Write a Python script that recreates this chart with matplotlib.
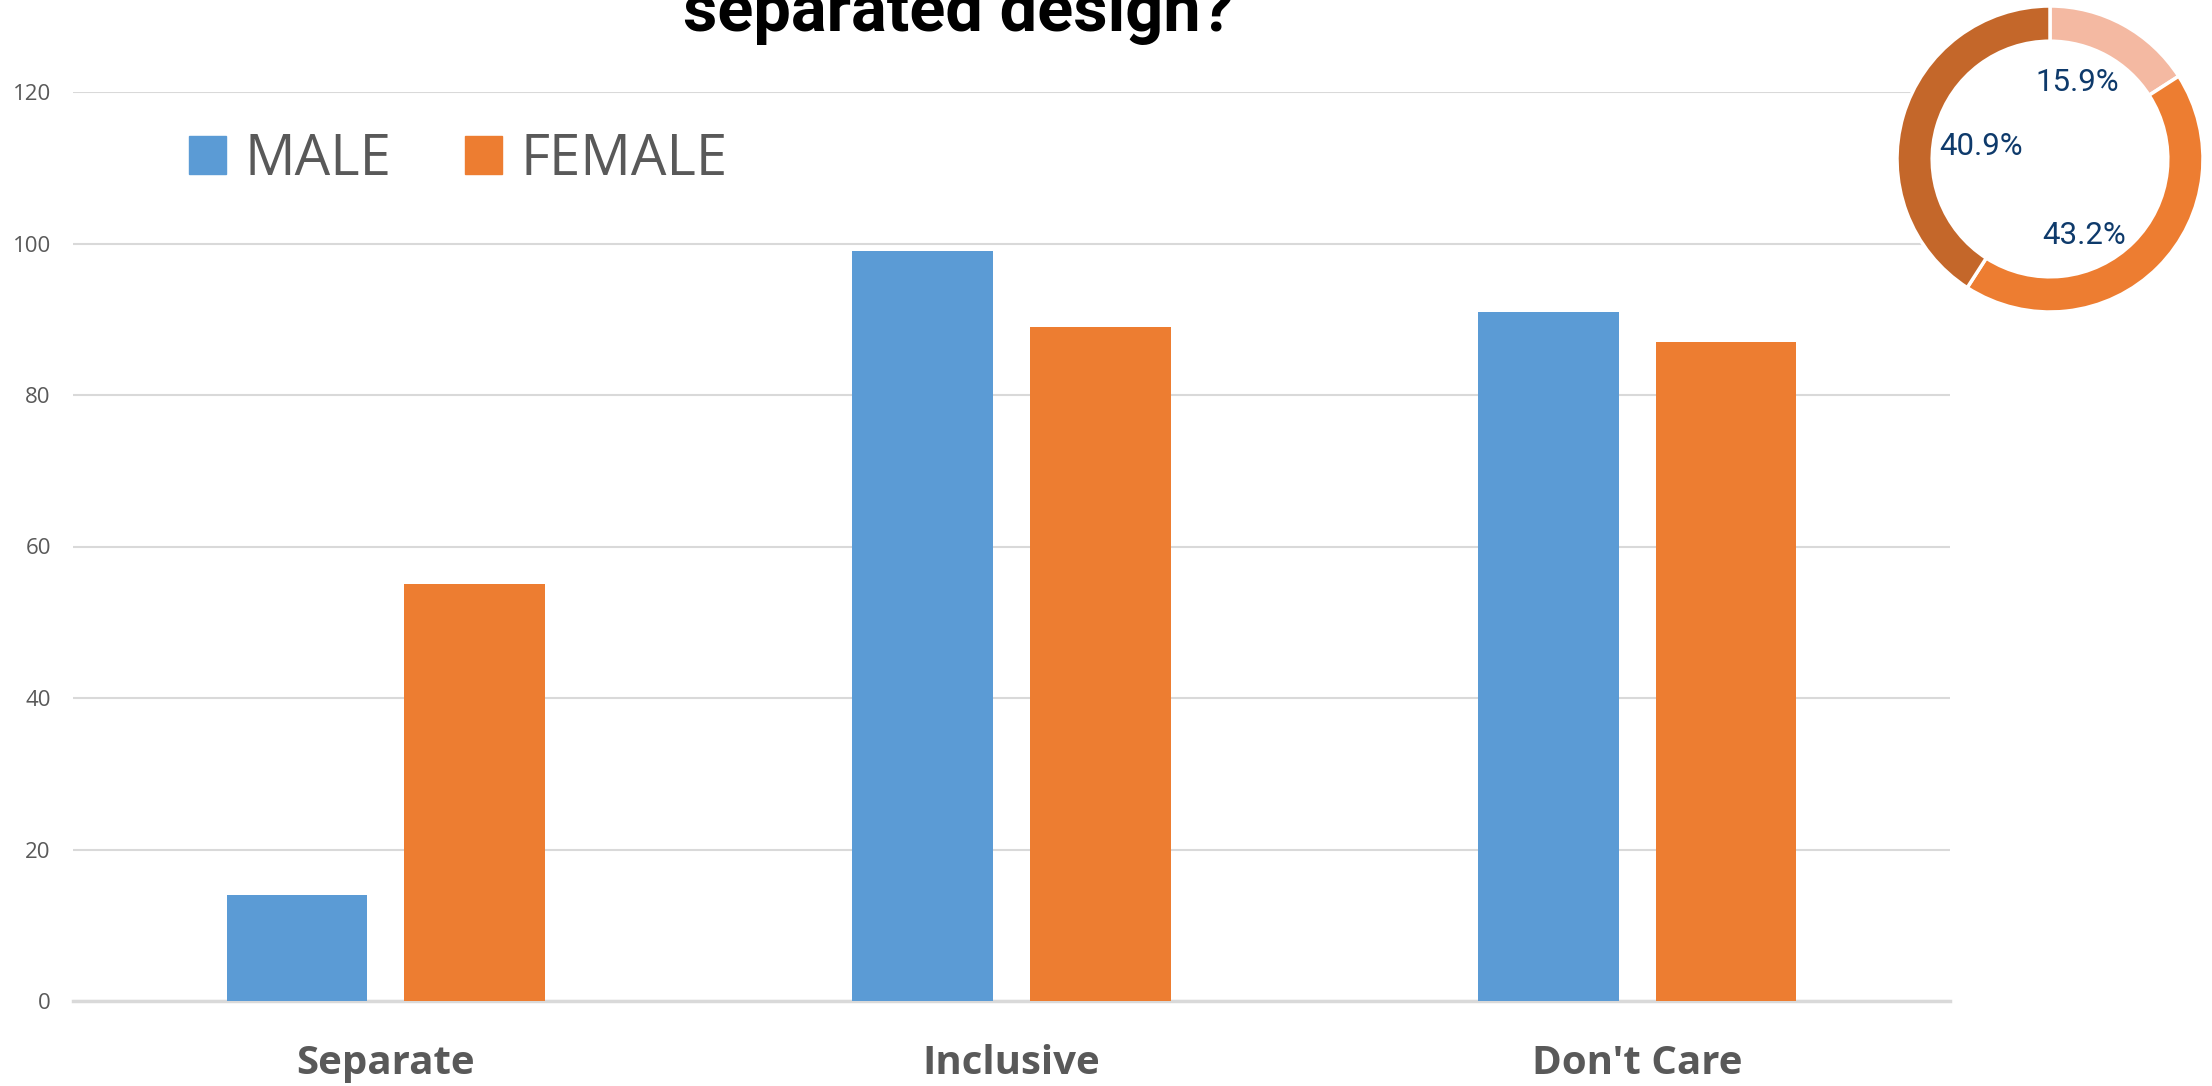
import numpy as np
import matplotlib
matplotlib.use("Agg")
import matplotlib.pyplot as plt
from matplotlib.patches import Patch

# data
categories = ["Separate", "Inclusive", "Don't Care"]
male = [14, 99, 91]
female = [55, 89, 87]
series_names = ["MALE", "FEMALE"]
yticks = [0, 20, 40, 60, 80, 100, 120]

donut_values = [15.9, 43.2, 40.9]
donut_colors = ["#F4B9A2", "#ED7D31", "#C4672A"]

title_tail = "separated design?"

W, H = 2212, 1086
fig = plt.figure(figsize=(W / 100, H / 100), dpi=100)
plt.rcParams["font.family"] = ["Open Sans", "DejaVu Sans"]

blue, orange = "#5B9BD5", "#ED7D31"
grey = "#595959"
grid = "#D9D9D9"

# main bar axes (pixel box from the reference)
ax = fig.add_axes([73 / W, 1 - 1001 / H, 1877 / W, 909 / H])
x = np.arange(len(categories))
off, bw = 0.142, 0.225
ax.bar(x - off, male, bw, color=blue, zorder=3)
ax.bar(x + off, female, bw, color=orange, zorder=3)
ax.set_xlim(-0.5, len(categories) - 0.5)
ax.set_ylim(0, 120)
ax.set_yticks(yticks)
ax.set_xticks(x, categories)
ax.yaxis.grid(True, color=grid, lw=1.5, zorder=0)
for s in ["top", "right", "left"]:
    ax.spines[s].set_visible(False)
ax.spines["bottom"].set_color(grid)
ax.spines["bottom"].set_linewidth(2.5)
ax.tick_params(axis="both", length=0)
ax.tick_params(axis="y", labelsize=16, labelcolor=grey, pad=16)
ax.tick_params(axis="x", labelsize=29, labelcolor=grey, pad=31)
for t in ax.get_xticklabels():
    t.set_fontweight("bold")

handles = [Patch(color=blue), Patch(color=orange)]
leg = fig.legend(handles, series_names, loc="center left",
                 bbox_to_anchor=(189 / W, 1 - 160 / H), ncol=2, frameon=False,
                 fontsize=40.5, handlelength=0.66, handleheight=0.66,
                 handletextpad=0.33, columnspacing=1.3, borderpad=0,
                 borderaxespad=0)
for t in leg.get_texts():
    t.set_color(grey)

fig.text(958 / W, 1 - 31 / H, title_tail, ha="center", va="baseline",
         fontsize=48, fontweight="bold", family="Roboto", color="black")

# donut in the upper right corner
cx, cy, r = 2050, 159, 153
pad = 1.05
dax = fig.add_axes([(cx - r * pad) / W, 1 - (cy + r * pad) / H,
                    2 * r * pad / W, 2 * r * pad / H])
wedges, _ = dax.pie(donut_values, colors=donut_colors, startangle=90,
                    counterclock=False, radius=1,
                    wedgeprops=dict(width=0.23, edgecolor="white", linewidth=2.5))
dax.set_xlim(-pad, pad)
dax.set_ylim(-pad, pad)
dax.set_aspect("equal")
dax.axis("off")

# label spots inside the ring (fractions of the radius)
label_pos = [(0.18, 0.50), (0.22, -0.50), (-0.45, 0.08)]
for v, (lx, ly) in zip(donut_values, label_pos):
    dax.text(lx, ly, f"{v:.1f}%", ha="center", va="center", fontsize=22.5,
             family="Roboto", color="#0E3A6B")

fig.savefig("out.png", dpi=100)
